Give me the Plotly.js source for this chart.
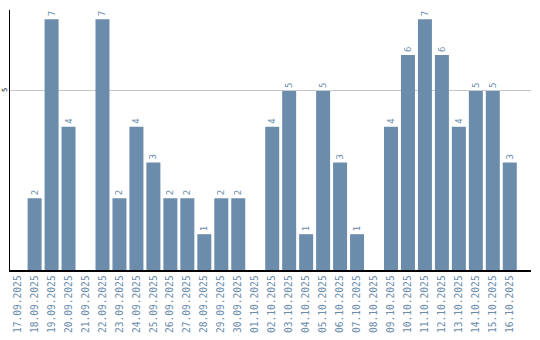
<!DOCTYPE html>
<html><head><meta charset="utf-8">
<script src="https://cdn.plot.ly/plotly-3.0.1.min.js"></script>
<style>body{margin:0}#c{width:540px;height:340px}</style>
</head><body><div id="c"></div>
<script>
const dates = ["17.09.2025","18.09.2025","19.09.2025","20.09.2025","21.09.2025","22.09.2025","23.09.2025","24.09.2025","25.09.2025","26.09.2025","27.09.2025","28.09.2025","29.09.2025","30.09.2025","01.10.2025","02.10.2025","03.10.2025","04.10.2025","05.10.2025","06.10.2025","07.10.2025","08.10.2025","09.10.2025","10.10.2025","11.10.2025","12.10.2025","13.10.2025","14.10.2025","15.10.2025","16.10.2025"];
const counts = [0,2,7,4,0,7,2,4,3,2,2,1,2,2,0,4,5,1,5,3,1,0,4,6,7,6,4,5,5,3];
const labels = counts.map(v => v > 0 ? String(v) : "");
const col = "#6b8cab";
Plotly.newPlot("c", [{
  type: "bar", x: dates, y: counts, text: labels,
  textposition: "outside", textangle: -90, cliponaxis: false,
  textfont: {family: "DejaVu Sans Mono", size: 9, color: col},
  marker: {color: col}, hoverinfo: "none"
}], {
  width: 540, height: 340,
  margin: {l: 10, r: 9, t: 10, b: 70},
  paper_bgcolor: "#fff", plot_bgcolor: "#fff",
  bargap: 0.176, showlegend: false,
  xaxis: {type: "category", range: [-0.45, 30.25], tickangle: -90, showline: true, linecolor: "#000", linewidth: 1.5,
    tickfont: {family: "DejaVu Sans Mono", size: 9.6, color: col}, ticks: "", showgrid: false},
  yaxis: {range: [0, 7.26], tickvals: [5], ticktext: ["5"], showline: true, linecolor: "#000", linewidth: 1.5,
    gridcolor: "#c8c8c8", zeroline: false, ticks: "", tickangle: -90, ticklabelstandoff: -1,
    tickfont: {family: "DejaVu Sans Mono", size: 7, color: "#000"}}
}, {displayModeBar: false, staticPlot: true});
</script></body></html>
